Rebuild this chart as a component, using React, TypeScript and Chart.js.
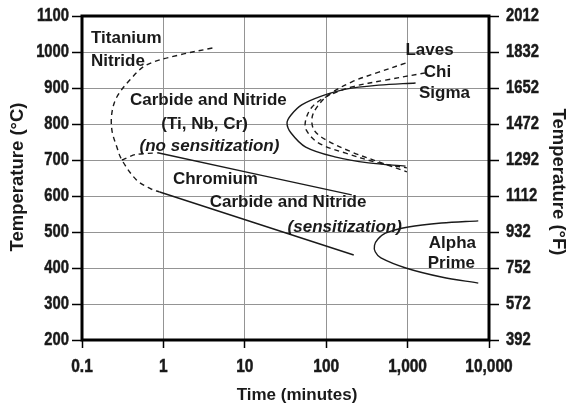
import React, { useEffect, useRef } from "react";
import { Chart, registerables } from "chart.js";

Chart.register(...registerables);

// ---- axis ticks ----
const xTickValues = [0.1, 1, 10, 100, 1000, 10000];
const xTickLabels = ["0.1", "1", "10", "100", "1,000", "10,000"];
const yTickValues = [200, 300, 400, 500, 600, 700, 800, 900, 1000, 1100];
const yTickLabels = ["200", "300", "400", "500", "600", "700", "800", "900", "1000", "1100"];
const y2TickLabels = ["392", "572", "752", "932", "1112", "1292", "1472", "1652", "1832", "2012"];

// ---- curves (time in minutes, temperature in °C) ----
const tiNitrideTime = [4.0, 1.58, 0.62, 0.386, 0.268, 0.233, 0.233, 0.268, 0.309, 0.47, 0.7, 0.9];
const tiNitrideTemp = [1011, 992, 964, 922, 875, 831, 783, 736, 700, 644, 620, 611];

const crUpperDashTime = [0.309, 0.45, 0.85];
const crUpperDashTemp = [700, 715, 720];
const crUpperTime = [0.85, 206];
const crUpperTemp = [720, 603];

const crLowerTime = [0.9, 218];
const crLowerTemp = [611, 436];

const sigmaTime = [1253, 442, 174, 89, 50, 37, 33, 37, 56, 132, 332, 944];
const sigmaTemp = [914, 908, 897, 878, 853, 825, 803, 775, 736, 708, 692, 683];

const chiTime = [1660, 537, 207, 99, 67, 56, 57, 81, 174, 442, 980];
const chiTemp = [942, 922, 903, 875, 847, 811, 783, 747, 719, 692, 678];

const lavesTime = [944, 442, 207, 107, 77, 67, 71, 99, 207, 480, 980];
const lavesTemp = [969, 944, 917, 881, 847, 817, 783, 756, 722, 692, 667];

const alphaTime = [7380, 2600, 1020, 535, 430, 392, 400, 470, 950, 2600, 7380];
const alphaTemp = [531, 525, 514, 497, 480, 463, 445, 428, 400, 375, 358];

// ---- text annotations (anchored in data coordinates) ----
const noteTexts = [
  "Titanium", "Nitride", "Carbide and Nitride", "(Ti, Nb, Cr)", "(no sensitization)",
  "Chromium", "Carbide and Nitride", "(sensitization)", "Laves", "Chi", "Sigma", "Alpha", "Prime",
];
const noteTimes = [0.129, 0.129, 3.57, 3.2, 3.68, 4.36, 34, 169, 1860, 2330, 2840, 3550, 3450];
const noteTemps = [1039, 975, 867, 800, 739, 647, 583, 514, 1006, 944, 886, 469, 414];
const noteAlign = ["left", "left", "center", "center", "center", "center", "center", "center", "center", "center", "center", "center", "center"];
const noteItalic = [false, false, false, false, true, false, false, true, false, false, false, false, false];

const zip = (xs: number[], ys: number[]) => xs.map((x, i) => ({ x, y: ys[i] }));

const LABEL_FONT = "'Liberation Sans', Arial, sans-serif";
const INK = "#1a1a1a";
const GRID = "#949494";

function drawNarrow(ctx: CanvasRenderingContext2D, text: string, x: number, y: number, align: CanvasTextAlign, sx: number) {
  ctx.save();
  ctx.translate(x, y);
  ctx.scale(sx, 1);
  ctx.textAlign = align;
  ctx.fillText(text, 0, 0);
  ctx.lineWidth = 0.5;
  ctx.strokeStyle = INK;
  ctx.strokeText(text, 0, 0);
  ctx.restore();
}

const overlayPlugin = {
  id: "overlay",
  afterDraw(chart: any) {
    const { ctx, chartArea, scales } = chart;
    const xs = scales.x;
    const ys = scales.y;
    const ys2 = scales.y2;
    ctx.save();
    // frame
    ctx.strokeStyle = "#000";
    ctx.lineWidth = 3;
    ctx.strokeRect(chartArea.left, chartArea.top, chartArea.right - chartArea.left, chartArea.bottom - chartArea.top);

    // tick labels (condensed bold)
    ctx.fillStyle = INK;
    ctx.textBaseline = "middle";
    ctx.font = `bold 18px ${LABEL_FONT}`;
    yTickValues.forEach((v, i) => {
      drawNarrow(ctx, yTickLabels[i], chartArea.left - 13, ys.getPixelForValue(v), "right", 0.82);
      drawNarrow(ctx, y2TickLabels[i], chartArea.right + 17, ys2.getPixelForValue(v), "left", 0.82);
    });
    xTickValues.forEach((v, i) => {
      drawNarrow(ctx, xTickLabels[i], xs.getPixelForValue(v), chartArea.bottom + 27, "center", 0.86);
    });

    // annotations
    noteTexts.forEach((t, i) => {
      ctx.font = `${noteItalic[i] ? "italic " : ""}bold 17px ${LABEL_FONT}`;
      ctx.textAlign = noteAlign[i] as CanvasTextAlign;
      ctx.fillText(t, xs.getPixelForValue(noteTimes[i]), ys.getPixelForValue(noteTemps[i]));
    });

    // axis titles
    ctx.font = `bold 17px ${LABEL_FONT}`;
    ctx.textAlign = "center";
    ctx.fillText("Time (minutes)", 297, 395);

    ctx.font = `bold 18.5px ${LABEL_FONT}`;
    ctx.save();
    ctx.translate(18, 177);
    ctx.rotate(-Math.PI / 2);
    ctx.fillText("Temperature (°C)", 0, 0);
    ctx.restore();

    ctx.save();
    ctx.translate(558, 182);
    ctx.rotate(Math.PI / 2);
    ctx.fillText("Temperature (°F)", 0, 0);
    ctx.restore();

    ctx.restore();
  },
};

export default function App() {
  const ref = useRef<HTMLCanvasElement | null>(null);

  useEffect(() => {
    if (!ref.current) return;
    const solid = (data: { x: number; y: number }[]) => ({
      data,
      showLine: true,
      borderColor: INK,
      borderWidth: 1.4,
      pointRadius: 0,
      tension: 0.35,
      fill: false,
    });
    const dashed = (data: { x: number; y: number }[]) => ({
      ...solid(data),
      borderDash: [5, 4],
    });
    const noPad = (s: any) => {
      s.paddingTop = 0;
      s.paddingBottom = 0;
      s.paddingLeft = 0;
      s.paddingRight = 0;
    };

    const chart = new Chart(ref.current, {
      type: "scatter",
      data: {
        datasets: [
          dashed(zip(tiNitrideTime, tiNitrideTemp)),
          { ...dashed(zip(crUpperDashTime, crUpperDashTemp)), tension: 0.2 },
          solid(zip(crUpperTime, crUpperTemp)),
          solid(zip(crLowerTime, crLowerTemp)),
          solid(zip(sigmaTime, sigmaTemp)),
          dashed(zip(chiTime, chiTemp)),
          dashed(zip(lavesTime, lavesTemp)),
          solid(zip(alphaTime, alphaTemp)),
        ] as any,
      },
      options: {
        animation: false,
        responsive: false,
        maintainAspectRatio: false,
        devicePixelRatio: 1,
        layout: { padding: { top: 16, left: 0, right: 0, bottom: 0 } },
        plugins: { legend: { display: false }, tooltip: { enabled: false } },
        scales: {
          x: {
            type: "logarithmic",
            position: "bottom",
            min: 0.1,
            max: 10000,
            afterBuildTicks: (s: any) => {
              s.ticks = xTickValues.map((v) => ({ value: v }));
            },
            afterFit: (s: any) => {
              s.height = 70;
              noPad(s);
            },
            ticks: { display: false },
            grid: { color: GRID, lineWidth: 1, tickColor: "#000", tickLength: 8, tickWidth: 1.5 },
            border: { display: false },
          },
          y: {
            type: "linear",
            position: "left",
            min: 200,
            max: 1100,
            afterBuildTicks: (s: any) => {
              s.ticks = yTickValues.map((v) => ({ value: v }));
            },
            afterFit: (s: any) => {
              s.width = 82;
              noPad(s);
            },
            ticks: { display: false },
            grid: { color: GRID, lineWidth: 1, tickColor: "#000", tickLength: 10, tickWidth: 1.5 },
            border: { display: false },
          },
          y2: {
            type: "linear",
            position: "right",
            min: 200,
            max: 1100,
            afterBuildTicks: (s: any) => {
              s.ticks = yTickValues.map((v) => ({ value: v }));
            },
            afterFit: (s: any) => {
              s.width = 79;
              noPad(s);
            },
            ticks: { display: false },
            grid: { drawOnChartArea: false, tickColor: "#000", tickLength: 10, tickWidth: 1.5 },
            border: { display: false },
          },
        },
      } as any,
      plugins: [overlayPlugin],
    });
    return () => chart.destroy();
  }, []);

  return (
    <div style={{ position: "absolute", left: 0, top: 0, width: 568, height: 410 }}>
      <canvas ref={ref} width={568} height={410} style={{ display: "block", width: 568, height: 410 }} />
    </div>
  );
}
